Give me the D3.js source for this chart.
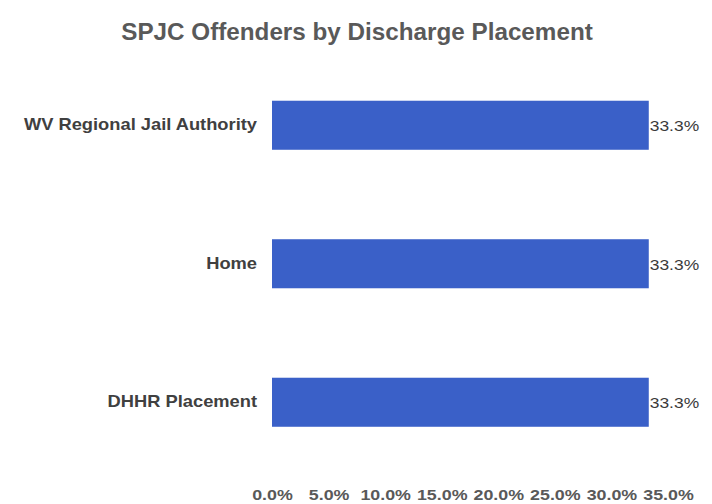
<!DOCTYPE html>
<html><head><meta charset="utf-8">
<script src="https://cdn.jsdelivr.net/npm/d3@7"></script>
<style>body{margin:0;background:#fff}svg{display:block}</style>
</head><body>
<svg id="c" width="712" height="504"></svg>
<script>
const title = "SPJC Offenders by Discharge Placement";
const categories = ["WV Regional Jail Authority", "Home", "DHHR Placement"];
const values = [33.3, 33.3, 33.3];
const tickValues = [0, 5, 10, 15, 20, 25, 30, 35];

const svg = d3.select("#c");
const font = "'Liberation Sans', Arial, sans-serif";
const x = d3.scaleLinear().domain([0, 35]).range([272, 668]);
const y = d3.scaleBand().domain(categories).range([56, 471.5]).paddingInner(0.646).paddingOuter(0.323);

function stretch(sel, f) {
  sel.each(function () {
    const w = this.getComputedTextLength();
    d3.select(this).attr("textLength", w * f).attr("lengthAdjust", "spacingAndGlyphs");
  });
}

svg.append("text").attr("x", 357).attr("y", 40).attr("text-anchor", "middle")
  .attr("font-family", font).attr("font-weight", "bold").attr("font-size", 23)
  .attr("fill", "#595959").text(title).call(stretch, 1.054);

svg.selectAll("rect.bar").data(values).join("rect").attr("class", "bar")
  .attr("x", x(0)).attr("y", (d, i) => y(categories[i]))
  .attr("width", d => x(d) - x(0)).attr("height", y.bandwidth())
  .attr("fill", "#3a60c8");

svg.selectAll("text.val").data(values).join("text").attr("class", "val")
  .attr("x", d => x(d) + 1).attr("y", (d, i) => y(categories[i]) + y.bandwidth() / 2)
  .attr("dy", "0.4em").attr("font-family", font).attr("font-size", 14.5)
  .attr("fill", "#3a3a3a").text(d => d.toFixed(1) + "%").call(stretch, 1.2);

const yAxis = svg.append("g").attr("transform", `translate(${x(0) - 15},0)`)
  .call(d3.axisLeft(y).tickSize(0).tickPadding(0));
yAxis.select(".domain").remove();
yAxis.selectAll("text").attr("font-family", font).attr("font-weight", "bold")
  .attr("font-size", 17).attr("fill", "#404040").attr("dy", "0.3em").call(stretch, 1.076);

const xAxis = svg.append("g").attr("transform", "translate(0,489)")
  .call(d3.axisBottom(x).tickValues(tickValues).tickSize(0).tickPadding(0)
    .tickFormat(d => d.toFixed(1) + "%"));
xAxis.select(".domain").remove();
xAxis.selectAll("text").attr("font-family", font).attr("font-weight", "bold")
  .attr("font-size", 15.5).attr("fill", "#595959").call(stretch, 1.15);
</script>
</body></html>
